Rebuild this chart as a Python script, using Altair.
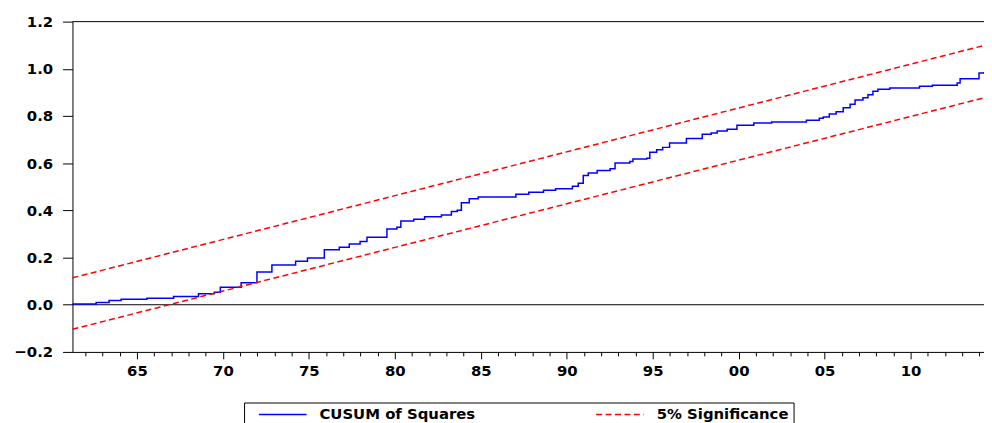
import altair as alt
import pandas as pd

# CUSUM of squares path (level starts, step-after)
cusum_years = [1961.25, 1962.63, 1963.38, 1964.08, 1965.58, 1967.13, 1968.58, 1969.50,
               1969.85, 1971.06, 1971.98, 1972.85, 1974.23, 1974.92, 1975.90, 1976.77,
               1977.35, 1977.98, 1978.38, 1979.54, 1980.12, 1980.35, 1981.10, 1981.73,
               1982.71, 1983.29, 1983.63, 1983.87, 1984.33, 1984.85, 1987.04, 1987.79,
               1988.65, 1989.35, 1990.33, 1990.67, 1990.96, 1991.25, 1991.77, 1992.52,
               1992.81, 1993.67, 1993.85, 1994.65, 1994.83, 1995.23, 1995.58, 1995.98,
               1996.96, 1997.88, 1998.40, 1998.75, 1999.33, 1999.90, 2000.88, 2001.92,
               2003.94, 2004.69, 2004.92, 2005.27, 2005.67, 2006.08, 2006.48, 2006.77,
               2007.23, 2007.52, 2007.81, 2008.10, 2008.79, 2010.52, 2011.27, 2012.71,
               2012.88, 2013.98, 2014.27]
cusum_vals = [0.003, 0.009, 0.018, 0.023, 0.028, 0.035, 0.047, 0.053,
              0.074, 0.093, 0.139, 0.168, 0.184, 0.198, 0.233, 0.244,
              0.257, 0.268, 0.286, 0.321, 0.328, 0.355, 0.362, 0.373,
              0.380, 0.395, 0.401, 0.432, 0.449, 0.457, 0.468, 0.477,
              0.485, 0.492, 0.502, 0.515, 0.548, 0.558, 0.569, 0.576,
              0.601, 0.607, 0.618, 0.621, 0.646, 0.657, 0.667, 0.686,
              0.705, 0.723, 0.728, 0.736, 0.744, 0.761, 0.770, 0.775,
              0.782, 0.790, 0.796, 0.808, 0.818, 0.835, 0.850, 0.868,
              0.877, 0.890, 0.905, 0.913, 0.919, 0.926, 0.930, 0.940,
              0.958, 0.982, 0.987]

# 5% significance bounds (straight lines, endpoints)
sig_years = [1961.25, 2014.27]
sig_upper = [0.114, 1.099]
sig_lower = [-0.104, 0.877]

y_ticks = [-0.2, 0.0, 0.2, 0.4, 0.6, 0.8, 1.0, 1.2]
x_ticks = list(range(1962, 2015))
x_domain = [1961.25, 2014.27]
ref_lines = [0.0, 1.2]

series_names = ["CUSUM of Squares", "5% Significance"]

cusum_df = pd.DataFrame({"year": cusum_years, "value": cusum_vals,
                         "series": series_names[0], "band": "cusum"})
sig_df = pd.concat([
    pd.DataFrame({"year": sig_years, "value": sig_upper, "series": series_names[1], "band": "upper"}),
    pd.DataFrame({"year": sig_years, "value": sig_lower, "series": series_names[1], "band": "lower"}),
])
ref_df = pd.DataFrame({"v": ref_lines})

FONT = "DejaVu Sans"

x_enc = alt.X("year:Q", scale=alt.Scale(domain=x_domain, nice=False, zero=False),
              axis=alt.Axis(values=x_ticks, title=None, grid=False,
                            labelExpr="datum.value % 5 === 0 ? substring(toString(datum.value), 2, 4) : ''",
                            tickSize={"condition": {"test": "datum.value % 5 === 0", "value": 7}, "value": 4},
                            labelPadding=5, labelOverlap=False, labelFlush=False))
y_enc = alt.Y("value:Q", scale=alt.Scale(domain=[-0.2, 1.2], nice=False, zero=False),
              axis=alt.Axis(values=y_ticks, format=".1f", title=None, grid=False,
                            tickSize=10, labelPadding=10))

legend = alt.Legend(orient="none", legendX=173, legendY=384, direction="horizontal",
                    title=None, strokeColor="black", fillColor="white", padding=4,
                    symbolType="stroke", symbolSize=2304, symbolStrokeWidth=1.5,
                    clipHeight=16, labelFont=FONT, labelFontSize=15, labelFontWeight="bold",
                    labelColor="black", labelOffset=12, columnPadding=110, symbolOffset=10)

color_enc = alt.Color("series:N", scale=alt.Scale(domain=series_names, range=["#0000ff", "#ff0000"]),
                      legend=legend)
dash_enc = alt.StrokeDash("series:N", scale=alt.Scale(domain=series_names, range=[[1, 0], [6, 3.5]]),
                          legend=legend)

refs = alt.Chart(ref_df).mark_rule(color="black", strokeWidth=1).encode(
    y=alt.Y("v:Q", scale=alt.Scale(domain=[-0.2, 1.2], nice=False, zero=False))
)

cusum = alt.Chart(cusum_df).mark_line(interpolate="step-after", strokeWidth=1.5).encode(
    x=x_enc, y=y_enc, color=color_enc, strokeDash=dash_enc, detail="band:N"
)

sig = alt.Chart(sig_df).mark_line(strokeWidth=1.5).encode(
    x=x_enc, y=y_enc, color=color_enc, strokeDash=dash_enc, detail="band:N"
)

chart = alt.layer(refs, cusum, sig).properties(
    width=919, height=333,
    background="white",
    autosize=alt.AutoSizeParams(type="none"),
    padding={"left": 65, "top": 12, "right": 0, "bottom": 80},
).configure_view(stroke=None).configure_axis(
    labelFont=FONT, labelFontSize=15, labelFontWeight="bold", labelColor="black",
    domainColor="black", tickColor="black", domainWidth=1, tickWidth=1
)

chart.save("out.html", embed_options={"renderer": "svg", "actions": False})
